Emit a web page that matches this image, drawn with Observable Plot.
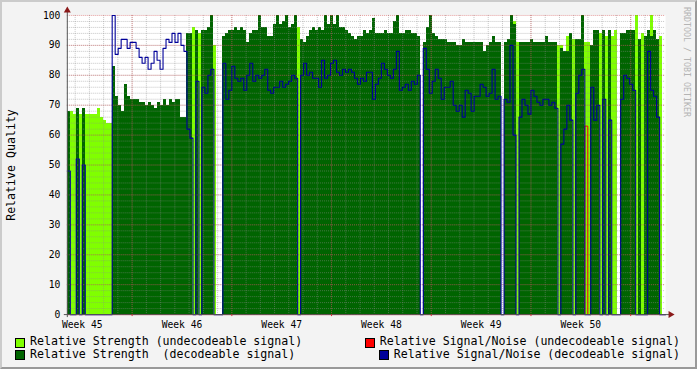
<!DOCTYPE html>
<html><head><meta charset="utf-8">
<script src="https://cdn.jsdelivr.net/npm/d3@7"></script>
<script src="https://cdn.jsdelivr.net/npm/@observablehq/plot@0.6"></script>
<style>
html,body{margin:0;padding:0;background:#F3F3F3;}
#wrap{position:relative;width:697px;height:369px;background:#F3F3F3;overflow:hidden;font-family:"DejaVu Sans Mono",monospace;box-sizing:border-box;border-top:2px solid #CBCBCB;border-left:2px solid #CBCBCB;border-right:2px solid #999;border-bottom:2px solid #999;}
#chart{position:absolute;left:-2px;top:-2px;}
.t{position:absolute;white-space:pre;color:#000;line-height:1;}
.sw{position:absolute;width:8px;height:8px;border:1px solid #000;}
</style></head><body><div id="wrap"><div id="chart"></div></div>
<script>
// ---- data (one sample every 0.21 day across the 6-week window) ----
const weekLabels = ["Week 45","Week 46","Week 47","Week 48","Week 49","Week 50"];
const weekStartDays = [-2.45, 4.55, 11.55, 18.55, 25.55, 32.55, 39.55]; // Monday 00:00 of each week, days from window start
const yTicks = [0,10,20,30,40,50,60,70,80,90,100];
// D = decodeable, U = undecodeable, - = no data
const state =
  "DUUDUDUUUUUUUUU" +            // 0-14
  "DDDDDDDDDDDDDDDDDDDDDDDDD" +  // 15-39
  "DDUDUDDDDU--" +               // 40-51
  "DDDDDDDDDDDDDDDDDDDDDDDDD" +  // 52-76
  "U" +                          // 77
  "DDDDDDDDDDDDDDDDDDDDDDDDDDDDDDDDDDDDDDDD" + // 78-117
  "-" +                          // 118
  "DDDDDDDDDDDDDDDDDDDDDDDDDD" + // 119-144
  "-DDDDUDDDDDDDDDDDDDU" +       // 145-164
  "DDDDUDDDUUDDDUDUDUU-" +       // 165-184
  "DDDDDUDUDDDDDU";              // 185-199
const strength = [
  68,68,67,69,67,69,67,67,67,67,69,66,65,64,64,
  83,73,70,68,77,73,72,72,72,71,71,70,71,70,69,71,70,72,70,72,71,72,72,66,66,
  94,94,96,95,94,95,95,96,100,90,0,0,
  93,94,95,95,96,95,96,95,91,94,95,95,100,96,96,93,93,97,100,97,98,100,96,97,100,
  96,
  92,91,93,95,96,95,96,95,100,97,100,97,100,96,96,95,94,93,92,93,93,95,94,95,99,94,94,94,95,94,94,98,100,94,94,95,95,94,94,93,
  0,
  91,96,100,94,93,92,92,92,91,91,91,90,90,92,91,91,91,91,91,91,88,90,91,93,91,91,
  0,91,92,100,97,91,91,91,91,91,92,91,91,91,91,93,91,91,91,90,
  89,88,88,94,92,92,92,100,91,91,90,95,95,94,95,93,95,93,95,0,
  94,94,95,95,95,100,92,94,93,95,93,95,92,93,92
];
const snr = [
  48,0,0,52,0,50,0,0,0,0,0,0,0,0,0,
  100,87,89,92,92,89,91,91,89,86,84,86,82,84,88,85,82,89,92,91,94,91,94,90,88,
  62,59,0,78,0,76,74,80,82,0,0,0,
  84,72,75,83,79,78,79,75,80,84,78,80,79,80,82,75,74,76,76,78,76,77,78,80,79,
  0,
  80,84,80,81,79,79,76,85,79,80,84,85,81,80,82,81,82,81,79,77,79,78,81,81,72,77,79,84,82,80,79,82,88,75,76,77,75,78,77,80,
  0,
  89,82,74,78,82,79,72,76,76,78,70,68,70,66,75,74,68,73,73,77,76,73,74,82,72,73,
  0,72,71,90,60,0,66,72,70,67,75,73,71,70,72,72,70,71,69,0,
  57,62,70,65,0,74,80,82,0,0,76,65,70,0,72,0,65,0,0,0,
  72,80,79,77,75,72,0,70,0,88,75,73,66,41,0
];
// undecodeable strength peeking above the decodeable area: [sample, value]
const lightPeaks = [[149,98],[165,90],[167,93],[195,100]];
// undecodeable signal/noise: [sample, value]
const redSnr = [[173,63]];

const LIGHT = "#80FF00", DARK = "#006400", BLUE = "#000099", RED = "#FF0000";
const N = strength.length, SPAN = 42, dt = SPAN / N;

const rows = strength.map((s, i) => ({t0: i*dt, t1: (i+1)*dt, s, st: state[i], n: state[i] === "D" ? snr[i] : 0, r: 0}));
redSnr.forEach(([i, v]) => { rows[i].r = v; });
const linePts = rows.map(d => ({t: d.t0, n: d.n, r: d.r}));
linePts.push({t: SPAN, n: rows[N-1].n, r: rows[N-1].r});
const peaks = lightPeaks.map(([i, v]) => ({t0: i*dt, t1: (i+1)*dt, s: v}));

const weekCenters = weekLabels.map((l, i) => ({label: l, t: weekStartDays[i] + 3.5}));
const majorX = weekStartDays.filter(d => d > 0 && d < SPAN);
const minorX = d3.range(0.55, SPAN, 1);
const minorY = d3.range(2, 100, 2);

const chart = Plot.plot({
  width: 697, height: 335,
  marginLeft: 67, marginRight: 30, marginTop: 15, marginBottom: 20,
  x: {domain: [0, SPAN], axis: null},
  y: {domain: [0, 100], axis: null},
  style: {background: "transparent", fontFamily: "DejaVu Sans Mono, monospace", fontSize: "9.7px", color: "#000", overflow: "visible"},
  marks: [
    Plot.frame({fill: "#fff", stroke: "none"}),
    Plot.rectY(peaks, {x1: "t0", x2: "t1", y: "s", fill: LIGHT, shapeRendering: "crispEdges"}),
    Plot.rectY(rows.filter(d => d.st === "U"), {x1: "t0", x2: "t1", y: "s", fill: LIGHT, shapeRendering: "crispEdges"}),
    Plot.rectY(rows.filter(d => d.st === "D"), {x1: "t0", x2: "t1", y: "s", fill: DARK, shapeRendering: "crispEdges"}),
    Plot.ruleY(minorY, {stroke: "#8C8C8C", strokeOpacity: 0.5, strokeDasharray: "1,1"}),
    Plot.ruleX(minorX, {stroke: "#8C8C8C", strokeOpacity: 0.5, strokeDasharray: "1,1"}),
    Plot.ruleY(yTicks.filter(v => v > 0), {stroke: "#D03030", strokeOpacity: 0.45, strokeDasharray: "1,1"}),
    Plot.ruleX(majorX, {stroke: "#D03030", strokeOpacity: 0.45, strokeDasharray: "1,1"}),
    Plot.line(linePts, {x: "t", y: "r", curve: "step-after", stroke: RED, strokeWidth: 1}),
    Plot.line(linePts, {x: "t", y: "n", curve: "step-after", stroke: BLUE, strokeWidth: 1.1}),
    Plot.ruleY([0], {stroke: "#555", insetLeft: -3, insetRight: -4}),
    Plot.ruleX([0], {stroke: "#555", insetTop: -5, insetBottom: -3}),
    Plot.dot([0], {x: () => 0, y: () => 100, symbol: "triangle", r: 2.6, fill: "#8B1A1A", stroke: "none", dy: -5}),
    Plot.dot([0], {x: () => SPAN, y: () => 0, symbol: "triangle", rotate: 90, r: 2.6, fill: "#8B1A1A", stroke: "none", dx: 5}),
    Plot.ruleX(majorX, {y1: 0, y2: 0, insetBottom: -2, stroke: "#D03030"}),
    Plot.text(yTicks, {x: () => 0, y: d => d, text: d => String(d), textAnchor: "end", dx: -7, fontSize: 9.7}),
    Plot.text(weekCenters, {x: "t", y: () => 0, text: "label", dy: 10, fontSize: 9.7})
  ]
});
document.getElementById("chart").appendChild(chart);

const wrap = document.getElementById("wrap");
function addText(txt, css) { const d = document.createElement("div"); d.className = "t"; d.textContent = txt; Object.assign(d.style, css); wrap.appendChild(d); return d; }
function addSwatch(color, left, top) { const d = document.createElement("div"); d.className = "sw"; d.style.background = color; d.style.left = left + "px"; d.style.top = top + "px"; wrap.appendChild(d); }
addText("Relative Quality", {left: "10px", top: "163px", fontSize: "11.6px", transform: "translate(-50%,-50%) rotate(-90deg)", transformOrigin: "center"});
addText("RRDTOOL / TOBI OETIKER", {left: "685px", top: "60px", fontSize: "8.3px", color: "#B4B4B4", transform: "translate(-50%,-50%) rotate(90deg)", transformOrigin: "center"});
const legendLeft = [
  {label: "Relative Strength (undecodeable signal)", color: LIGHT},
  {label: "Relative Strength  (decodeable signal)", color: DARK}
];
const legendRight = [
  {label: "Relative Signal/Noise (undecodeable signal)", color: RED},
  {label: "Relative Signal/Noise (decodeable signal)", color: BLUE}
];
const rowY = [335, 347.5];
legendLeft.forEach((e, i) => { addSwatch(e.color, 13, rowY[i] + 0.5); addText(e.label, {left: "28px", top: (rowY[i] - 1) + "px", fontSize: "11.6px"}); });
legendRight.forEach((e, i) => {
  const t = addText(e.label, {right: "15px", top: (rowY[i] - 1) + "px", fontSize: "11.6px"});
  const w = t.getBoundingClientRect().width;
  addSwatch(e.color, 695 - 15 - w - 2 - 15, rowY[i] + 0.5);
});
</script></body></html>
